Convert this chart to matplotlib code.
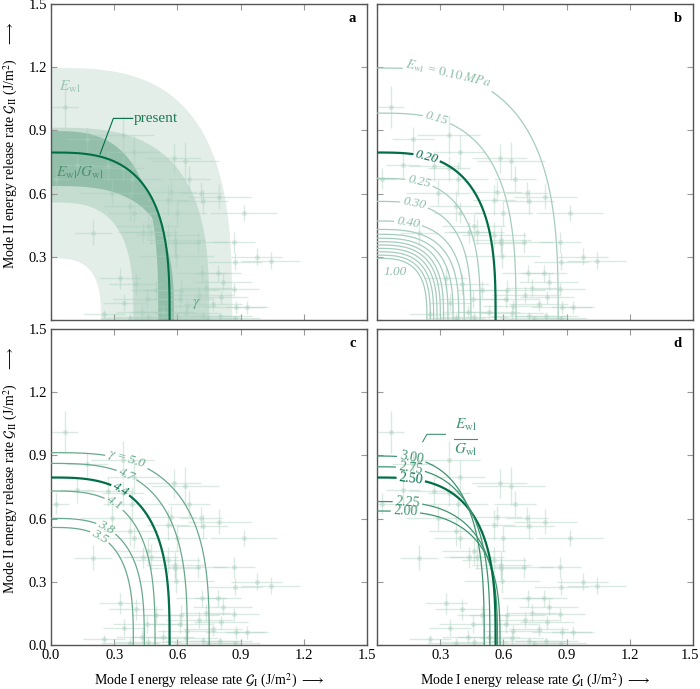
import numpy as np
import matplotlib.pyplot as plt
import matplotlib.transforms as mtransforms

plt.rcParams['font.family'] = ['Liberation Serif', 'DejaVu Serif']
plt.rcParams['mathtext.fontset'] = 'stix'
plt.rcParams['font.size'] = 10.5

# measured fracture toughness (G_I, G_II) with uncertainties
gi = [0.066, 0.172, 0.340, 0.394, 0.582, 0.636, 0.656, 0.025, 0.125, 0.270,
      0.343, 0.386, 0.290, 0.568, 0.713, 0.798, 0.720, 0.555, 0.377, 0.392,
      0.600, 0.914, 0.198, 0.459, 0.437, 0.475, 0.555, 0.589, 0.587, 0.696,
      0.870, 0.593, 0.873, 0.976, 1.044, 0.327, 0.403, 0.715, 0.794, 0.815,
      0.498, 0.617, 0.736, 0.867, 0.704, 0.807, 0.456, 0.614, 0.345, 0.767,
      0.645, 0.878, 0.930, 0.430, 0.641, 0.250, 0.375, 0.459, 0.720, 0.804,
      0.873, 0.745, 0.530]
gii = [1.012, 0.858, 0.878, 0.799, 0.767, 0.753, 0.670, 0.670, 0.736, 0.731,
       0.720, 0.669, 0.604, 0.609, 0.605, 0.585, 0.564, 0.570, 0.541, 0.509,
       0.506, 0.508, 0.414, 0.445, 0.416, 0.419, 0.403, 0.380, 0.364, 0.369,
       0.369, 0.305, 0.277, 0.301, 0.282, 0.198, 0.169, 0.222, 0.222, 0.182,
       0.143, 0.142, 0.153, 0.146, 0.119, 0.108, 0.098, 0.098, 0.082, 0.074,
       0.066, 0.060, 0.060, 0.040, 0.035, 0.029, 0.011, 0.016, 0.019, 0.019,
       0.008, 0.008, 0.040]
gi_err = [0.06, 0.10, 0.15, 0.12, 0.13, 0.16, 0.10, 0.06, 0.08, 0.12,
          0.10, 0.14, 0.15, 0.12, 0.10, 0.15, 0.12, 0.10, 0.13, 0.12,
          0.14, 0.16, 0.09, 0.15, 0.12, 0.13, 0.15, 0.14, 0.12, 0.14,
          0.10, 0.18, 0.13, 0.12, 0.14, 0.10, 0.13, 0.12, 0.11, 0.14,
          0.12, 0.18, 0.12, 0.12, 0.16, 0.13, 0.16, 0.15, 0.10, 0.14,
          0.14, 0.14, 0.10, 0.12, 0.15, 0.10, 0.14, 0.16, 0.18, 0.15,
          0.12, 0.16, 0.15]
gii_err = [0.10, 0.06, 0.09, 0.08, 0.07, 0.09, 0.06, 0.05, 0.06, 0.07,
           0.06, 0.08, 0.06, 0.05, 0.05, 0.06, 0.06, 0.07, 0.07, 0.05,
           0.06, 0.04, 0.06, 0.06, 0.05, 0.06, 0.06, 0.06, 0.05, 0.05,
           0.05, 0.06, 0.04, 0.04, 0.04, 0.05, 0.05, 0.04, 0.04, 0.04,
           0.04, 0.05, 0.04, 0.03, 0.04, 0.03, 0.04, 0.04, 0.04, 0.03,
           0.03, 0.03, 0.03, 0.03, 0.03, 0.02, 0.02, 0.02, 0.02, 0.02,
           0.01, 0.01, 0.03]

# present criterion (critical G_Ic, G_IIc)
present = (0.563, 0.795)

# panel b: weak-layer Young's modulus variation
ewl = [0.10, 0.15, 0.20, 0.25, 0.30, 0.40, 0.45, 0.50, 0.55, 0.60, 0.65, 0.70, 0.80, 0.90, 1.00]
ewl_gic = [0.860, 0.660, 0.563, 0.490, 0.446, 0.414, 0.388, 0.361, 0.337, 0.316,
           0.301, 0.285, 0.269, 0.253, 0.237]
ewl_giic = [1.196, 0.982, 0.795, 0.672, 0.563, 0.470, 0.430, 0.407, 0.388, 0.372,
            0.356, 0.340, 0.324, 0.308, 0.293]
ewl_labels = {0.10: ('$E_\\mathrm{wl}$ = $\\mathit{0.10\\ MPa}$', 0.34),
              0.15: ('0.15', 0.283), 0.20: ('0.20', 0.236), 0.25: ('0.25', 0.20),
              0.30: ('0.30', 0.176), 0.40: ('0.40', 0.148)}

# panel c: exponent gamma variation
gamma = [3.5, 3.8, 4.1, 4.4, 4.7, 5.0]
gamma_gic = [0.391, 0.443, 0.494, 0.563, 0.647, 0.751]
gamma_giic = [0.558, 0.601, 0.731, 0.795, 0.862, 0.913]
gamma_lx = [0.232, 0.262, 0.300, 0.330, 0.360, 0.360]

# panel d: E_wl / G_wl ratio variation
ratio = [2.00, 2.25, 2.50, 2.75, 3.00]
ratio_gic = [0.584, 0.572, 0.563, 0.536, 0.509]
ratio_giic = [0.636, 0.681, 0.795, 0.846, 0.897]
ratio_lx = [0.135, 0.145, 0.160, 0.160, 0.163]

P = 3  # exponent of the power-law envelope

DARK = '#006e46'
MID = '#3f9470'
MIDC = '#68a98b'
LIGHT = '#a5cdbd'
PT = '#a9cfbd'
PX = 316 / 1.5  # pixels per data unit


def envelope(gic, giic, n=600):
    t = np.linspace(0, np.pi / 2, n)
    r = 1 / ((np.cos(t) / gic) ** P + (np.sin(t) / giic) ** P) ** (1 / P)
    return r * np.cos(t), r * np.sin(t)


def band(ax, gics, giics, color):
    t = np.linspace(0, np.pi / 2, 400)
    rs = np.array([1 / ((np.cos(t) / a) ** P + (np.sin(t) / b) ** P) ** (1 / P)
                   for a, b in zip(gics, giics)])
    ro, ri = rs.max(axis=0), rs.min(axis=0)
    xs = np.concatenate([ro * np.cos(t), (ri * np.cos(t))[::-1]])
    ys = np.concatenate([ro * np.sin(t), (ri * np.sin(t))[::-1]])
    ax.fill(xs, ys, color=color, lw=0, zorder=1)


def curve(ax, gic, giic, color, lw, label=None, lx=None, lcolor=None,
          italic=False, size=9.5):
    x, y = envelope(gic, giic)
    if label is not None:
        u = 1 - (lx / gic) ** P
        ly = giic * u ** (1 / P)
        slope = -giic * u ** (1 / P - 1) * (lx / gic) ** (P - 1) / gic
        t = ax.text(lx, ly, label, color=lcolor or color, ha='center', va='center',
                    fontsize=size, style='italic' if italic else 'normal', zorder=5,
                    rotation_mode='anchor')
        w = t.get_window_extent(fig.canvas.get_renderer()).width
        t.set_rotation(np.degrees(np.arctan(slope)))
        gap = np.hypot(x - lx, y - ly) < (w / 2 + 3) / PX
        y = np.where(gap, np.nan, y)
    ax.plot(x, y, color=color, lw=lw, zorder=3)


def points(ax):
    ax.errorbar(gi, gii, xerr=gi_err, yerr=gii_err, fmt='o', ms=3.5,
                color=PT, ecolor=PT, elinewidth=1, mew=0, alpha=0.42, zorder=2)


fig = plt.figure(figsize=(7.0, 6.89), dpi=100)
W, H = 316 / 700, 316 / 689
axa = fig.add_axes([51 / 700, 1 - 320 / 689, W, H])
axb = fig.add_axes([377 / 700, 1 - 320 / 689, W, H])
axc = fig.add_axes([51 / 700, 1 - 645 / 689, W, H])
axd = fig.add_axes([377 / 700, 1 - 645 / 689, W, H])

ticks = [0.0, 0.3, 0.6, 0.9, 1.2, 1.5]
tl = [f'{v:.1f}' for v in ticks]
for ax, tag in zip([axa, axb, axc, axd], 'abcd'):
    ax.set_xlim(0, 1.5)
    ax.set_ylim(0, 1.5)
    ax.set_xticks(ticks)
    ax.set_yticks(ticks)
    ax.tick_params(direction='in', top=True, right=True, length=4, width=0.8,
                   color='#999999', labelsize=10.5, pad=3)
    for s in ax.spines.values():
        s.set_color('#555555')
        s.set_linewidth(1.0)
    ax.text(0.965, 0.955, tag, transform=ax.transAxes, ha='right', va='center',
            fontweight='bold', fontsize=10.5)

ylab = r'Mode II energy release rate $\mathcal{G}_\mathrm{II}$ (J/m$^2$) $\quad\longrightarrow$'
xlab = r'Mode I energy release rate $\mathcal{G}_\mathrm{I}$ (J/m$^2$) $\longrightarrow$'
axa.set_xticklabels([])
axa.set_yticklabels([''] + tl[1:])
axa.set_ylabel(ylab, fontsize=10)
axa.yaxis.set_label_coords(-0.098, 0.555)
axb.set_xticklabels([])
axb.set_yticklabels([])
axc.set_xticklabels(tl)
axc.set_yticklabels(tl)
axc.set_ylabel(ylab, fontsize=10)
axc.yaxis.set_label_coords(-0.098, 0.555)
axc.set_xlabel(xlab, fontsize=10, labelpad=7)
axd.set_xticklabels([''] + tl[1:])
axd.set_yticklabels([])
axd.set_xlabel(xlab, fontsize=10, labelpad=7)
last = axd.xaxis.get_major_ticks()[-1].label1
last.set_transform(last.get_transform() +
                   mtransforms.ScaledTranslation(-2.5 / 72, 0, fig.dpi_scale_trans))

# panel a: uncertainty bands
band(axa, ewl_gic, ewl_giic, '#e3eee9')
band(axa, gamma_gic, gamma_giic, '#c5dcd1')
band(axa, ratio_gic, ratio_giic, '#93bfaa')
points(axa)
curve(axa, *present, DARK, 1.5)
axa.plot([0.233, 0.296, 0.388], [0.788, 0.957, 0.957], color=DARK, lw=0.8, zorder=4)
axa.text(0.395, 0.957, 'present', color='#1f7a55', ha='left', va='center', fontsize=11)
axa.text(0.09, 1.105, r'$E_\mathrm{wl}$', color='#9cc5b3', ha='center', va='center', fontsize=11)
axa.text(0.14, 0.696, r'$E_\mathrm{wl}/G_\mathrm{wl}$', color='#4f8f72', ha='center',
         va='center', fontsize=11)
axa.text(0.69, 0.076, r'$\gamma$', color='#5fa888', ha='center', va='center', fontsize=11)

# panel b
points(axb)
for e, a, b in zip(ewl, ewl_gic, ewl_giic):
    thick = abs(e - 0.20) < 1e-9
    txt, lx = ewl_labels.get(e, (None, None))
    curve(axb, a, b, DARK if thick else LIGHT, 1.6 if thick else 0.9, txt, lx,
          DARK if thick else '#8fbfaa', italic=True)
axb.text(0.085, 0.229, '1.00', color='#8fbfaa', style='italic', ha='center',
         va='center', fontsize=9.5)

# panel c
points(axc)
for g, a, b, lx in zip(gamma, gamma_gic, gamma_giic, gamma_lx):
    thick = abs(g - 4.4) < 1e-9
    txt = r'$\gamma$ = 5.0' if g == 5.0 else f'{g:.1f}'
    curve(axc, a, b, DARK if thick else MIDC, 1.6 if thick else 0.9, txt, lx,
          italic=True)

# panel d
points(axd)
for r, a, b, lx in zip(ratio, ratio_gic, ratio_giic, ratio_lx):
    thick = abs(r - 2.50) < 1e-9
    curve(axd, a, b, DARK if thick else MID, 1.6 if thick else 0.9, f'{r:.2f}', lx,
          size=10)
axd.plot([0.217, 0.237, 0.325], [0.965, 1.0, 1.0], color=MID, lw=0.8, zorder=4)
axd.plot([0.367, 0.475], [0.976, 0.976], color=MID, lw=0.8, zorder=4)
axd.text(0.421, 1.044, r'$E_\mathrm{wl}$', color=MID, ha='center', va='center', fontsize=11)
axd.text(0.421, 0.925, r'$G_\mathrm{wl}$', color=MID, ha='center', va='center', fontsize=11)

fig.savefig('out.png', dpi=100)
